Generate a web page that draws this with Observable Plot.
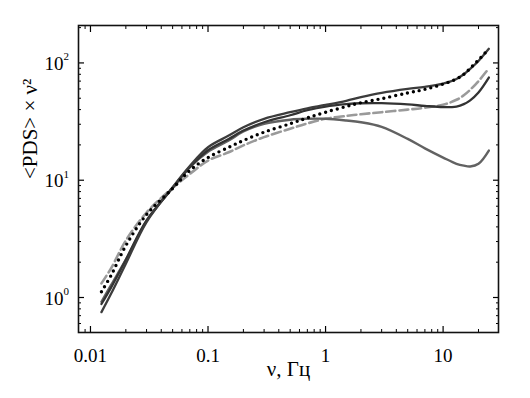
<!DOCTYPE html>
<html>
<head>
<meta charset="utf-8">
<script src="https://cdn.jsdelivr.net/npm/d3@7"></script>
<script src="https://cdn.jsdelivr.net/npm/@observablehq/plot@0.6"></script>
<style>
  html, body { margin: 0; padding: 0; background: #fff; }
</style>
</head>
<body>
<div id="chart"></div>
<script>
// Frequencies (Hz)
const freq = [0.0124, 0.015, 0.02, 0.03, 0.05, 0.07, 0.1, 0.15, 0.2, 0.3, 0.5, 0.7, 1, 1.5, 2, 3, 5, 7, 10, 13, 15, 17, 20, 24.5];
// <PDS> x nu^2 series
const solidA = [0.75, 1.08, 1.94, 4.4, 8.7, 13.2, 19.1, 24, 28.3, 33.4, 38, 41, 43.8, 47.5, 51, 55.5, 60, 62.5, 66.5, 73, 80, 89, 104, 132];
const dotted = [1.12, 1.55, 2.77, 5.1, 8.5, 12.1, 15.6, 19.1, 21.8, 25.7, 30.3, 34, 38, 42.5, 45.8, 49.6, 55.5, 59.5, 66, 73, 80, 90, 106, 132];
const dashed = [1.32, 1.78, 3.06, 5.3, 8.6, 11.3, 14.7, 17.3, 19.8, 23.3, 27.5, 30.5, 33.4, 35.3, 36.5, 38, 40, 41.5, 44, 48.5, 53, 59, 70, 90];
const solidB = [0.88, 1.22, 2.1, 4.55, 8.6, 12.9, 18, 22.5, 26.5, 31.2, 35.8, 39.5, 42.5, 44.5, 45.3, 45.4, 44.3, 43, 42, 42.5, 44.5, 48, 56, 75];
const grayC  = [0.92, 1.28, 2.1, 4.5, 8.6, 12.9, 17.5, 21.8, 26, 30.3, 32.8, 33.4, 33.4, 32.3, 31.2, 28.5, 22.5, 18.7, 15.6, 13.8, 13.3, 13.1, 13.8, 17.9];

// Ticks
const xMajor = [0.01, 0.1, 1, 10];
const xMinor = [0.009, 0.02, 0.03, 0.04, 0.05, 0.06, 0.07, 0.08, 0.09, 0.2, 0.3, 0.4, 0.5, 0.6, 0.7, 0.8, 0.9, 2, 3, 4, 5, 6, 7, 8, 9, 20];
const yMajor = [1, 10, 100];
const yMinor = [0.6, 0.7, 0.8, 0.9, 2, 3, 4, 5, 6, 7, 8, 9, 20, 30, 40, 50, 60, 70, 80, 90, 200];
const xLabel = "ν, Гц";
const yLabel = "<PDS> × ν²";

const mk = (vals) => freq.map((nu, i) => ({nu, v: vals[i]}));

const plot = Plot.plot({
  width: 530,
  height: 398,
  marginLeft: 78,
  marginRight: 32,
  marginTop: 25,
  marginBottom: 66,
  style: {fontFamily: "'Liberation Serif', 'Times New Roman', serif", fontSize: "19px", background: "white", color: "black"},
  x: {type: "log", domain: [0.00791, 29.6], label: null},
  y: {type: "log", domain: [0.503, 208.5], label: null},
  marks: [
    // tick labels
    Plot.axisX(xMajor, {anchor: "bottom", tickSize: 0, tickPadding: 16, tickFormat: d => String(d), label: null, fontSize: 19}),
    Plot.axisY(yMajor, {anchor: "left", tickSize: 0, tickPadding: 15, tickFormat: () => "10", label: null, fontSize: 19, dy: 1}),
    Plot.text(yMajor, {y: d => d, text: d => String(Math.round(Math.log10(d))), frameAnchor: "left", dx: -15, dy: -6, textAnchor: "start", fontSize: 11}),
    // inward ticks, all four sides
    Plot.axisX(xMajor, {anchor: "bottom", tickSize: -6, tickFormat: () => "", label: null, strokeWidth: 1.2}),
    Plot.axisX(xMajor, {anchor: "top", tickSize: -6, tickFormat: () => "", label: null, strokeWidth: 1.2}),
    Plot.axisX(xMinor, {anchor: "bottom", tickSize: -3, tickFormat: () => "", label: null, strokeWidth: 1}),
    Plot.axisX(xMinor, {anchor: "top", tickSize: -3, tickFormat: () => "", label: null, strokeWidth: 1}),
    Plot.axisY(yMajor, {anchor: "left", tickSize: -6, tickFormat: () => "", label: null, strokeWidth: 1.2}),
    Plot.axisY(yMajor, {anchor: "right", tickSize: -6, tickFormat: () => "", label: null, strokeWidth: 1.2}),
    Plot.axisY(yMinor, {anchor: "left", tickSize: -3, tickFormat: () => "", label: null, strokeWidth: 1}),
    Plot.axisY(yMinor, {anchor: "right", tickSize: -3, tickFormat: () => "", label: null, strokeWidth: 1}),
    Plot.frame({stroke: "#111", strokeWidth: 1.6}),
    // curves
    Plot.line(mk(dashed), {x: "nu", y: "v", curve: "catmull-rom", stroke: "#9a9a9a", strokeWidth: 2.6, strokeDasharray: "9 4"}),
    Plot.line(mk(grayC), {x: "nu", y: "v", curve: "catmull-rom", stroke: "#626262", strokeWidth: 2.4}),
    Plot.line(mk(solidB), {x: "nu", y: "v", curve: "catmull-rom", stroke: "#333", strokeWidth: 2.3}),
    Plot.line(mk(solidA), {x: "nu", y: "v", curve: "catmull-rom", stroke: "#3c3c3c", strokeWidth: 2.3}),
    Plot.line(mk(dotted), {x: "nu", y: "v", curve: "catmull-rom", stroke: "#000", strokeWidth: 3.4, strokeDasharray: "0 6", strokeLinecap: "round"}),
    // axis titles
    Plot.text([xLabel], {frameAnchor: "bottom", dy: 43, text: d => d, fontSize: 21}),
    Plot.text([yLabel], {frameAnchor: "left", dx: -48, rotate: -90, text: d => d, fontSize: 21})
  ]
});
document.getElementById("chart").appendChild(plot);
</script>
</body>
</html>
